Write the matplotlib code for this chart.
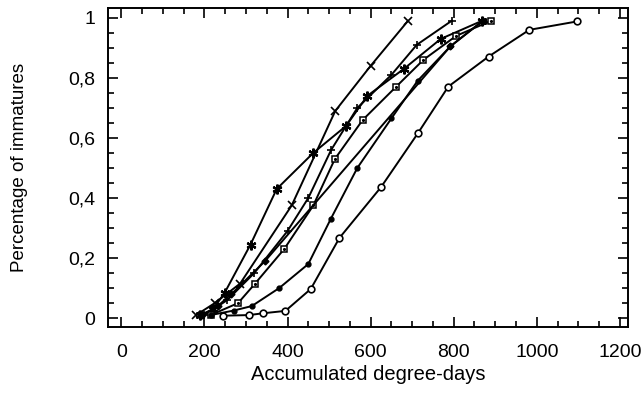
import matplotlib
matplotlib.use('Agg')
import matplotlib.pyplot as plt
from matplotlib.ticker import MultipleLocator, FuncFormatter

plt.rcParams['font.family'] = ['Liberation Sans', 'DejaVu Sans']

# accumulated degree-days / proportion for each series
x_cross = [180, 225, 286, 410, 515, 600, 690]
y_cross = [0.01, 0.05, 0.115, 0.375, 0.69, 0.84, 0.99]

x_star = [190, 221, 249, 311, 374, 462, 541, 592, 680, 769, 868]
y_star = [0.01, 0.03, 0.085, 0.245, 0.43, 0.55, 0.64, 0.74, 0.83, 0.93, 0.99]

x_plus = [200, 255, 320, 400, 450, 505, 568, 650, 711, 795]
y_plus = [0.01, 0.06, 0.15, 0.29, 0.40, 0.56, 0.70, 0.81, 0.91, 0.99]

x_square = [215, 281, 322, 392, 462, 514, 581, 661, 727, 806, 890]
y_square = [0.01, 0.05, 0.115, 0.23, 0.375, 0.53, 0.66, 0.77, 0.86, 0.94, 0.99]

x_dot = [215, 270, 314, 380, 450, 504, 568, 650, 713, 792, 870]
y_dot = [0.01, 0.025, 0.04, 0.10, 0.18, 0.33, 0.50, 0.665, 0.79, 0.905, 0.99]

x_diam = [195, 232, 265, 346, 792, 870]
y_diam = [0.01, 0.04, 0.08, 0.19, 0.905, 0.99]

x_circ = [245, 307, 341, 395, 456, 525, 625, 714, 787, 884, 982, 1097]
y_circ = [0.008, 0.01, 0.016, 0.024, 0.097, 0.267, 0.436, 0.616, 0.771, 0.871, 0.96, 0.988]

fig = plt.figure(figsize=(6.43, 3.96), dpi=100)
ax = fig.add_axes([0.168, 0.174, 0.809, 0.806])

kw = dict(color='black', lw=1.4)
ax.plot(x_cross, y_cross, marker='x', ms=6, mew=1.2, **kw)
ax.plot(x_star, y_star, marker=(6, 2, 0), ms=7, mew=1.6, **kw)
ax.plot(x_plus, y_plus, marker='+', ms=6, mew=1.2, **kw)
ax.plot(x_square, y_square, marker='s', ms=4.5, mfc='white', mec='black', mew=1.1, **kw)
ax.plot(x_square, y_square, ls='none', marker='.', ms=2.5, color='black')
ax.plot(x_dot, y_dot, marker='o', ms=3.5, mfc='black', **kw)
ax.plot(x_diam, y_diam, marker='D', ms=3.5, mfc='black', **kw)
ax.plot(x_circ, y_circ, marker='o', ms=4.8, mfc='white', mec='black', mew=1.2, **kw)

ax.set_xlim(-32, 1220)
ax.set_ylim(-0.03, 1.033)
ax.xaxis.set_major_locator(MultipleLocator(200))
ax.xaxis.set_minor_locator(MultipleLocator(50))
ax.yaxis.set_major_locator(MultipleLocator(0.2))
ax.yaxis.set_minor_locator(MultipleLocator(0.05))
ax.yaxis.set_major_formatter(FuncFormatter(lambda v, p: ('%g' % round(v, 2)).replace('.', ',')))

ax.tick_params(which='both', direction='in', top=True, right=True, width=1.2)
ax.tick_params(which='major', length=7, labelsize=14)
ax.tick_params(axis='x', which='major', pad=12)
ax.tick_params(axis='y', which='major', pad=9)
ax.tick_params(which='minor', length=4)
for s in ax.spines.values():
    s.set_linewidth(1.4)

ax.set_xlabel('Accumulated degree-days', fontsize=14.5, labelpad=3)
ax.set_ylabel('Percentage of immatures', fontsize=13.5, labelpad=29)

fig.savefig('out.png', dpi=100)
